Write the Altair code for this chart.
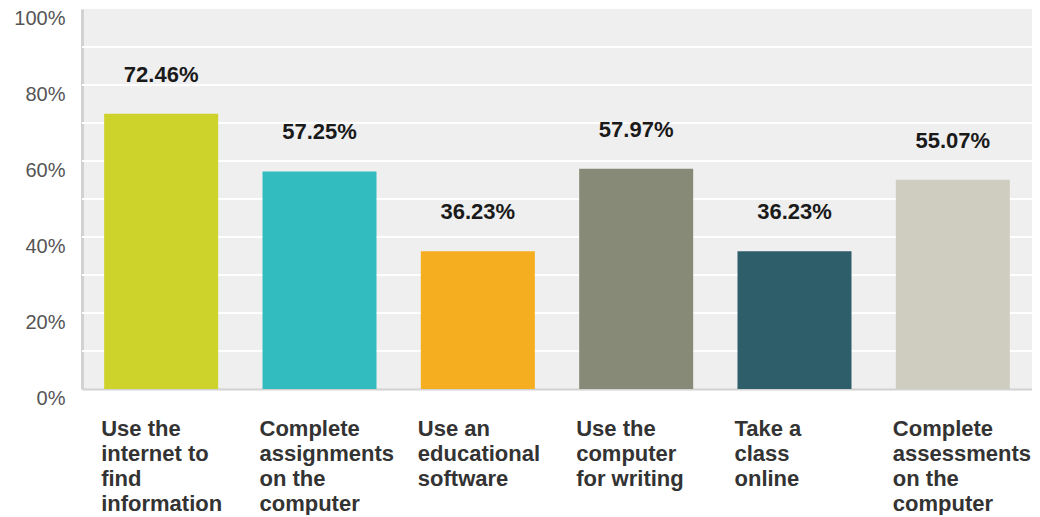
import altair as alt
import pandas as pd

categories = [
    "Use the\ninternet to\nfind\ninformation",
    "Complete\nassignments\non the\ncomputer",
    "Use an\neducational\nsoftware",
    "Use the\ncomputer\nfor writing",
    "Take a\nclass\nonline",
    "Complete\nassessments\non the\ncomputer",
]
values = [72.46, 57.25, 36.23, 57.97, 36.23, 55.07]
colors = ["#cdd32a", "#33bcbf", "#f5ae1f", "#888a78", "#2d5e6a", "#cfcdbf"]
value_labels = ["72.46%", "57.25%", "36.23%", "57.97%", "36.23%", "55.07%"]
grid_values = [10, 20, 30, 40, 50, 60, 70, 80, 90]
label_values = [0, 20, 40, 60, 80, 100]

df = pd.DataFrame({"cat": categories, "val": values, "lab": value_labels, "col": colors})
grid_df = pd.DataFrame({"g": grid_values})

x = alt.X(
    "cat:N",
    sort=categories,
    title=None,
    scale=alt.Scale(paddingInner=0.28, paddingOuter=0.14),
    axis=alt.Axis(
        labelExpr="split(datum.label, '\\n')",
        labelAngle=0,
        labelAlign="left",
        labelBaseline="top",
        labelOffset=-60,
        labelPadding=29,
        labelLineHeight=25,
        labelFont="Liberation Sans",
        labelFontSize=22,
        labelFontWeight="bold",
        labelColor="#333333",
        labelLimit=0,
        labelOverlap=False,
        labelBound=False,
        ticks=False,
        domainColor="#d2d2d2",
        domainWidth=2,
        grid=False,
    ),
)
y = alt.Y(
    "val:Q",
    title=None,
    scale=alt.Scale(domain=[0, 100], nice=False),
    axis=alt.Axis(
        values=label_values,
        labelExpr="datum.value + '%'",
        labelFont="Liberation Sans",
        labelFontSize=20,
        labelColor="#555555",
        labelPadding=17,
        labelOffset=9,
        labelBound=False,
        ticks=False,
        domainColor="#d2d2d2",
        domainWidth=3,
        grid=False,
    ),
)

grid = alt.Chart(grid_df).mark_rule(color="#ffffff", strokeWidth=2).encode(
    y=alt.Y("g:Q", scale=alt.Scale(domain=[0, 100], nice=False))
)
bars = alt.Chart(df).mark_bar().encode(
    x=x,
    y=y,
    color=alt.Color("col:N", scale=None, legend=None),
)
texts = alt.Chart(df).mark_text(
    dy=-39,
    baseline="middle",
    font="Liberation Sans",
    fontSize=22,
    fontWeight="bold",
    color="#1a1a1a",
).encode(x=alt.X("cat:N", sort=categories), y="val:Q", text="lab:N")

chart = (
    alt.layer(grid, bars, texts)
    .properties(
        width=950,
        height=380,
        padding={"left": 74, "top": 1, "right": 0, "bottom": 126},
        autosize=alt.AutoSizeParams(type="none"),
        background="#ffffff",
    )
    .configure_view(fill="#efefef", stroke=None)
)
chart.save("out.html", embed_options={"renderer": "svg", "actions": False})
